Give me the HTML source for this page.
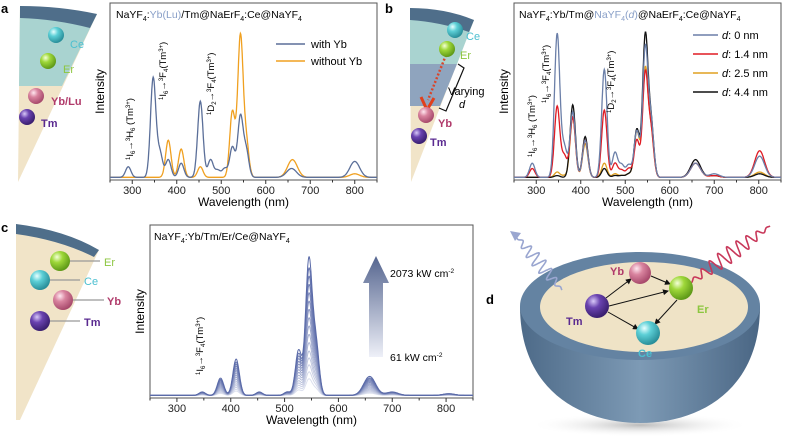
<!DOCTYPE html>
<html><head><meta charset="utf-8"><style>
html,body{margin:0;padding:0;background:#fff}
svg{display:block;font-family:"Liberation Sans",Arial,sans-serif}
</style></head><body>
<svg id="fig" width="792" height="443" viewBox="0 0 792 443" xmlns="http://www.w3.org/2000/svg">
<defs>
<radialGradient id="gCe" cx="35%" cy="30%" r="70%"><stop offset="0" stop-color="#e8ffff"/><stop offset=".4" stop-color="#5ccfd6"/><stop offset="1" stop-color="#2a8f9a"/></radialGradient>
<radialGradient id="gEr" cx="35%" cy="30%" r="70%"><stop offset="0" stop-color="#f4ffd8"/><stop offset=".4" stop-color="#9fd83a"/><stop offset="1" stop-color="#5f9a18"/></radialGradient>
<radialGradient id="gYb" cx="35%" cy="30%" r="70%"><stop offset="0" stop-color="#ffe8f0"/><stop offset=".4" stop-color="#d9849f"/><stop offset="1" stop-color="#a84a6c"/></radialGradient>
<radialGradient id="gTm" cx="35%" cy="30%" r="70%"><stop offset="0" stop-color="#d8c8f8"/><stop offset=".4" stop-color="#6a43b0"/><stop offset="1" stop-color="#3a1f70"/></radialGradient>
<linearGradient id="bowl" x1="0" y1="0" x2="1" y2="0"><stop offset="0" stop-color="#4d6a88"/><stop offset=".5" stop-color="#7d9ab5"/><stop offset="1" stop-color="#4a6684"/></linearGradient>
<linearGradient id="arrowG" x1="0" y1="0" x2="0" y2="1"><stop offset="0" stop-color="#55658f"/><stop offset="1" stop-color="#eef0f8"/></linearGradient>
<radialGradient id="shadow" cx="50%" cy="50%" r="50%"><stop offset="0" stop-color="#bbb"/><stop offset="1" stop-color="#fff" stop-opacity="0"/></radialGradient>
<marker id="ah" markerWidth="6" markerHeight="6" refX="5" refY="3" orient="auto"><path d="M0,0 L6,3 L0,6 z" fill="#111"/></marker>
</defs>

<g>
<text x="1" y="13" font-size="13" font-weight="bold">a</text>
<polygon points="20,6 97,14 18,182" fill="#f1e4c8"/>
<polygon points="20,6 97,14 62,86 19,86" fill="#a9d3d0"/>
<path d="M20,6 Q60,6 97,14 L90,28 Q55,19 20,18 Z" fill="#4f6e8a"/>
<circle cx="56" cy="35" r="8" fill="url(#gCe)"/><circle cx="48" cy="61" r="8" fill="url(#gEr)"/>
<circle cx="36" cy="96" r="8" fill="url(#gYb)"/><circle cx="27" cy="117" r="8" fill="url(#gTm)"/>
<text x="70" y="48" font-size="11" fill="#4bbfd0">Ce</text>
<text x="63" y="73" font-size="11" fill="#8cc63f">Er</text>
<text x="51" y="105" font-size="11" font-weight="bold" fill="#b03a6a">Yb/Lu</text>
<text x="41" y="127" font-size="11" font-weight="bold" fill="#5a2a90">Tm</text>
</g>

<g>
<text x="385" y="13" font-size="13" font-weight="bold">b</text>
<polygon points="410,8 474,20 411,182" fill="#f1e4c8"/>
<polygon points="410,8 474,20 457,64 410,64" fill="#a9d3d0"/>
<polygon points="410,64 457,64 440,106 410,106" fill="#8fa4be"/>
<path d="M410,8 Q445,8 474,20 L469,32 Q440,22 410,20 Z" fill="#4f6e8a"/>
<line x1="446" y1="55" x2="428" y2="100" stroke="#d9452a" stroke-width="2.5" stroke-dasharray="2,2"/>
<path d="M421,97 L427,110 L434,98" fill="none" stroke="#e0401c" stroke-width="3"/>
<circle cx="455" cy="30" r="8" fill="url(#gCe)"/><circle cx="447" cy="49" r="8" fill="url(#gEr)"/>
<circle cx="426" cy="115" r="8" fill="url(#gYb)"/><circle cx="419" cy="136" r="8" fill="url(#gTm)"/>
<path d="M458,64 L464,68 L446,111 L439,108" fill="none" stroke="#111" stroke-width="1.2"/>
<text x="466" y="40" font-size="11" fill="#4bbfd0">Ce</text>
<text x="460" y="59" font-size="11" fill="#8cc63f">Er</text>
<text x="438" y="127" font-size="11" font-weight="bold" fill="#b03a6a">Yb</text>
<text x="430" y="146" font-size="11" font-weight="bold" fill="#5a2a90">Tm</text>
<text x="448" y="95" font-size="11">Varying</text>
<text x="459" y="108" font-size="11" font-style="italic">d</text>
</g>

<g>
<text x="1" y="232" font-size="13" font-weight="bold">c</text>
<polygon points="16,224 99,250 20,420 16,420" fill="#f1e4c8"/>
<path d="M16,224 Q65,230 99,250 L94,257 Q60,240 16,234 Z" fill="#4f6e8a"/>
<g stroke="#999" stroke-width="1.2">
<line x1="68" y1="261" x2="100" y2="261"/><line x1="48" y1="280" x2="80" y2="280"/>
<line x1="71" y1="300" x2="104" y2="300"/><line x1="48" y1="321" x2="80" y2="321"/></g>
<circle cx="60" cy="261" r="10" fill="url(#gEr)"/><circle cx="40" cy="280" r="10" fill="url(#gCe)"/>
<circle cx="63" cy="300" r="10" fill="url(#gYb)"/><circle cx="40" cy="321" r="10" fill="url(#gTm)"/>
<text x="104" y="266" font-size="11" fill="#8cc63f">Er</text>
<text x="84" y="285" font-size="11" fill="#4bbfd0">Ce</text>
<text x="107" y="305" font-size="11" font-weight="bold" fill="#b03a6a">Yb</text>
<text x="84" y="326" font-size="11" font-weight="bold" fill="#5a2a90">Tm</text>
</g>

<g>
<text x="486" y="304" font-size="13" font-weight="bold">d</text>
<ellipse cx="640" cy="425" rx="110" ry="12" fill="url(#shadow)"/>
<path d="M520,306 C520,390 580,423 640,423 C700,423 760,390 760,306 Z" fill="url(#bowl)"/>
<ellipse cx="640" cy="306" rx="120" ry="54" fill="#6483a2"/>
<ellipse cx="644" cy="307" rx="104" ry="45" fill="#efe3c6"/>
<path id="blueWave" d="" fill="none" stroke="#9aa6d0" stroke-width="1.6"/>
<path d="M510,231 l11,2 l-6,8 z" fill="#9aa6d0"/>
<path id="redWave" d="" fill="none" stroke="#c8385a" stroke-width="1.6"/>
<g stroke="#111" stroke-width="1" marker-end="url(#ah)">
<line x1="606" y1="298" x2="631" y2="279"/><line x1="651" y1="276" x2="670" y2="284"/>
<line x1="609" y1="306" x2="668" y2="291"/><line x1="608" y1="312" x2="638" y2="329"/>
<line x1="677" y1="300" x2="655" y2="324"/></g>
<circle cx="640" cy="273" r="11" fill="url(#gYb)"/><circle cx="681" cy="288" r="12" fill="url(#gEr)"/>
<circle cx="597" cy="306" r="12" fill="url(#gTm)"/><circle cx="648" cy="333" r="12" fill="url(#gCe)"/>
<text x="610" y="275" font-size="11" font-weight="bold" fill="#b03a6a">Yb</text>
<text x="697" y="313" font-size="11" font-weight="bold" fill="#8cc63f">Er</text>
<text x="566" y="325" font-size="11" font-weight="bold" fill="#5a2a90">Tm</text>
<text x="638" y="357" font-size="11" font-weight="bold" fill="#4bbfd0">Ce</text>
</g>

<g id="charts"></g>
</svg>
<script>
// ---- Panel a data ----
const aPeaksYb = [291,347,362,381,410,453,476,492,508,525,543,556,658,800];
const aValsYb  = [0.06,0.56,0.14,0.10,0.08,0.43,0.10,0.04,0.05,0.17,0.34,0.15,0.05,0.09];
const aPeaksNo = [381,410,453,525,543,556,660,800];
const aValsNo  = [0.21,0.16,0.06,0.37,0.79,0.20,0.10,0.02];
// ---- Panel b data ----
const bPeaks = [291,347,363,382,410,453,477,492,508,526,545,558,658,700,802];
const bD0  = [0.08,0.81,0.17,0.37,0.21,0.61,0.14,0.07,0.07,0.26,0.72,0.30,0.08,0.02,0.12];
const bD14 = [0.05,0.40,0.12,0.34,0.21,0.38,0.08,0.04,0.05,0.21,0.58,0.25,0.08,0.01,0.15];
const bD25 = [0.00,0.03,0.01,0.34,0.19,0.08,0.02,0.01,0.02,0.26,0.60,0.25,0.08,0.01,0.03];
const bD44 = [0.00,0.01,0.00,0.41,0.23,0.05,0.01,0.01,0.02,0.27,0.79,0.30,0.10,0.01,0.02];
const bLabels = ["0 nm","1.4 nm","2.5 nm","4.4 nm"];
// ---- Panel c data ----
const cPeaks = [347,381,410,453,505,526,545,558,658,700,805];
const cVals  = [0.02,0.10,0.21,0.02,0.02,0.26,0.77,0.30,0.11,0.02,0.01];
const cLevels = [1,0.92,0.86,0.8,0.74,0.68,0.62,0.56,0.5,0.44,0.38,0.32,0.27,0.22,0.17,0.12];
const xTicks = [300,400,500,600,700,800];

const NS="http://www.w3.org/2000/svg";
const root=document.getElementById('charts');
function mk(tag,attrs,parent){const e=document.createElementNS(NS,tag);for(const k in attrs)e.setAttribute(k,attrs[k]);(parent||root).appendChild(e);return e;}
function spectrum(peaks,vals){const pts=[];for(let x=250;x<=850;x+=1){let y=0.015;for(let i=0;i<peaks.length;i++){const s=(peaks[i]>=640?11:6);y+=vals[i]*Math.exp(-0.5*Math.pow((x-peaks[i])/s,2));}pts.push([x,y]);}return pts;}

function makeChart(o){
  const g=mk('g',{});
  
  
  const sx=v=>o.x0+(v-250)/600*(o.x1-o.x0);
  const sy=v=>o.y1-v*(o.y1-o.y0);
  const frame=mk('rect',{x:o.x0,y:o.y0,width:o.x1-o.x0,height:o.y1-o.y0,fill:'none',stroke:'#555','stroke-width':1},g);
  
  
  for(let v=250;v<=850;v+=50){const t=mk('line',{x1:sx(v),x2:sx(v),y1:o.y1,y2:o.y1+(v%100===0?4:2.5),stroke:'#333','stroke-width':1},g);
    
    }
  xTicks.forEach(v=>{const t=mk('text',{x:sx(v),y:o.y1+14,'font-size':11,'text-anchor':'middle',fill:'#222'},g);t.textContent=v;
    
    });
  const xt=mk('text',{x:(o.x0+o.x1)/2,y:o.y1+26,'font-size':12,'text-anchor':'middle'},g);xt.textContent='Wavelength (nm)';
  
  
  const yt=mk('text',{x:0,y:0,'font-size':12,'text-anchor':'middle',transform:`translate(${o.x0-6},${(o.y0+o.y1)/2}) rotate(-90)`},g);yt.textContent='Intensity';
  
  
  o.series.forEach(s=>{const pts=spectrum(s.p,s.v);
    const d=pts.map((p,i)=>(i?'L':'M')+sx(p[0]).toFixed(1)+','+sy(p[1]).toFixed(1)).join('');
    const l=mk('path',{d,fill:'none',stroke:s.c,'stroke-width':s.sw||1.3},g);
    
    });
  return {g,sx,sy};
}

makeChart({name:'panel-a-chart',x0:110,x1:377,y0:3,y1:180,series:[
 {p:aPeaksNo,v:aValsNo,c:'#f0a020',name:'line-without-yb'},
 {p:aPeaksYb,v:aValsYb,c:'#5b6f99',name:'line-with-yb'}]});
makeChart({name:'panel-b-chart',x0:514,x1:781,y0:3,y1:180,series:[
 {p:bPeaks,v:bD25,c:'#e0a020',name:'line-d-2-5'},
 {p:bPeaks,v:bD44,c:'#111',name:'line-d-4-4'},
 {p:bPeaks,v:bD14,c:'#e01b24',name:'line-d-1-4'},
 {p:bPeaks,v:bD0,c:'#6b7fa8',name:'line-d-0'}]});
const cSeries=cLevels.map((lv,i)=>{const t=i/(cLevels.length-1);
  const col=`rgb(${Math.round(90+t*130)},${Math.round(106+t*118)},${Math.round(168+t*70)})`;
  return {p:cPeaks,v:cVals.map(v=>v*lv),c:col,sw:1,name:'line-power-'+i};}).reverse();
makeChart({name:'panel-c-chart',x0:150,x1:473,y0:225,y1:398,series:cSeries});

function txt(x,y,s,attrs,name,html){const t=mk('text',Object.assign({x,y,'font-size':10.5},attrs||{}));
  if(html)t.innerHTML=s;else t.textContent=s;
  
  return t;}
txt(116,18,'NaYF<tspan font-size="7" dy="3">4</tspan><tspan dy="-3">:</tspan><tspan fill="#8aa0c8">Yb(Lu)</tspan>/Tm@NaErF<tspan font-size="7" dy="3">4</tspan><tspan dy="-3">:Ce@NaYF</tspan><tspan font-size="7" dy="3">4</tspan>',{},'chart-title-a',true);
txt(519,18,'NaYF<tspan font-size="7" dy="3">4</tspan><tspan dy="-3">:Yb/Tm@</tspan><tspan fill="#8aa0c8">NaYF<tspan font-size="7" dy="3">4</tspan><tspan dy="-3">(</tspan><tspan font-style="italic">d</tspan>)</tspan>@NaErF<tspan font-size="7" dy="3">4</tspan><tspan dy="-3">:Ce@NaYF</tspan><tspan font-size="7" dy="3">4</tspan>',{},'chart-title-b',true);
txt(154,240,'NaYF<tspan font-size="7" dy="3">4</tspan><tspan dy="-3">:Yb/Tm/Er/Ce@NaYF</tspan><tspan font-size="7" dy="3">4</tspan>',{},'chart-title-c',true);

[['with Yb','#5b6f99'],['without Yb','#f0a020']].forEach((e,i)=>{const y=44+i*17;
  const l=mk('line',{x1:276,x2:305,y1:y,y2:y,stroke:e[1],'stroke-width':1.5});
  
  
  txt(311,y+4,e[0],{'font-size':11},'legend-entry');});
const bCols=['#6b7fa8','#e01b24','#e0a020','#111'];
bLabels.forEach((lab,i)=>{const y=35+i*19;
  const l=mk('line',{x1:693,x2:718,y1:y,y2:y,stroke:bCols[i],'stroke-width':1.5});
  
  
  txt(722,y+4,'<tspan font-style="italic">d</tspan>: '+lab,{'font-size':11},'legend-entry',true);});

function rot(x,y,s,name){const t=mk('text',{x:0,y:0,'font-size':9.5,transform:`translate(${x},${y}) rotate(-90)`});t.innerHTML=s;
  
  }
const IH='<tspan font-size="6" dy="-3">1</tspan><tspan dy="3">I</tspan><tspan font-size="6" dy="2">6</tspan><tspan dy="-2">→</tspan><tspan font-size="6" dy="-3">3</tspan><tspan dy="3">H</tspan><tspan font-size="6" dy="2">6</tspan><tspan dy="-2"> (Tm</tspan><tspan font-size="6" dy="-3">3+</tspan><tspan dy="3">)</tspan>';
const IF='<tspan font-size="6" dy="-3">1</tspan><tspan dy="3">I</tspan><tspan font-size="6" dy="2">6</tspan><tspan dy="-2">→</tspan><tspan font-size="6" dy="-3">3</tspan><tspan dy="3">F</tspan><tspan font-size="6" dy="2">4</tspan><tspan dy="-2">(Tm</tspan><tspan font-size="6" dy="-3">3+</tspan><tspan dy="3">)</tspan>';
const DF='<tspan font-size="6" dy="-3">1</tspan><tspan dy="3">D</tspan><tspan font-size="6" dy="2">2</tspan><tspan dy="-2">→</tspan><tspan font-size="6" dy="-3">3</tspan><tspan dy="3">F</tspan><tspan font-size="6" dy="2">4</tspan><tspan dy="-2">(Tm</tspan><tspan font-size="6" dy="-3">3+</tspan><tspan dy="3">)</tspan>';
rot(133,160,IH,'annotation-a-290');
rot(166,100,IF,'annotation-a-347');
rot(214,115,DF,'annotation-a-453');
rot(535,157,IH,'annotation-b-290');
rot(549,103,IF,'annotation-b-347');
rot(614,113,DF,'annotation-b-453');
rot(203,375,IF,'annotation-c-347');

const arr=mk('path',{d:'M369,357 L369,283 L363,283 L376,256 L389,283 L383,283 L383,357 Z',fill:'url(#arrowG)'});


txt(390,277,'2073 kW cm<tspan font-size="6.5" dy="-4">-2</tspan>',{'font-size':10.5},'power-max-label',true);
txt(390,361,'61 kW cm<tspan font-size="6.5" dy="-4">-2</tspan>',{'font-size':10.5},'power-min-label',true);

function wave(id,x0,y0,x1,y1,cycles,amp){const dx=x1-x0,dy=y1-y0,L=Math.hypot(dx,dy),nx=-dy/L,ny=dx/L;let d='';
  for(let i=0;i<=200;i++){const t=i/200;const a=amp*Math.sin(Math.PI*t)*Math.sin(2*Math.PI*cycles*t);
    d+=(i?'L':'M')+(x0+dx*t+nx*a).toFixed(1)+','+(y0+dy*t+ny*a).toFixed(1);}
  document.getElementById(id).setAttribute('d',d);}
wave('blueWave',562,290,516,236,7,7);
wave('redWave',688,284,770,226,9,8);
</script>
</body></html>
